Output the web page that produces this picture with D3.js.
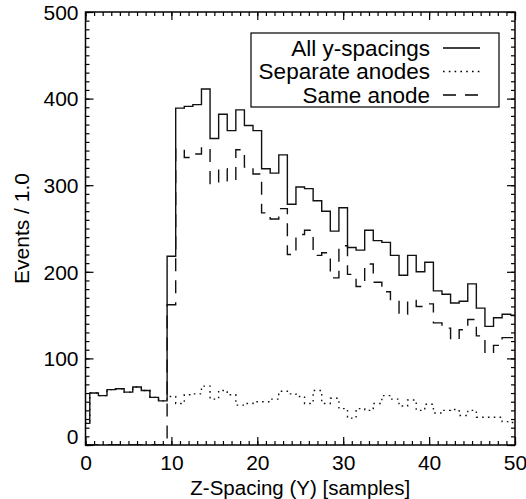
<!DOCTYPE html>
<html><head><meta charset="utf-8">
<script src="https://cdn.jsdelivr.net/npm/d3@7/dist/d3.min.js"></script>
<style>
body{margin:0;background:#fff}
svg text{font-family:"Liberation Sans",Arial,Helvetica,sans-serif;fill:#000}
</style>
</head><body>
<svg id="chart" width="526" height="499"></svg>
<script>
// Bin centres (Z-spacing in samples)
const zSpacing = [0,1,2,3,4,5,6,7,8,9,10,11,12,13,14,15,16,17,18,19,20,21,22,23,24,25,26,27,28,29,30,31,32,33,34,35,36,37,38,39,40,41,42,43,44,45,46,47,48,49,50];
const allSpacings = [25,60,57,64,65,61,67,63,55,51, 218,389,391,393,411,354,382,363,387,369, 363,319,314,335,278,298,296,282,270,247, 274,228,225,248,236,234,219,196,219,200, 211,178,174,164,166,186,158,137,147,151, 150];
const separateAnodes = [25,60,57,64,65,61,67,63,55,51, 56,48,58,59,68,53,63,58,46,48, 50,50,53,62,59,56,48,63,48,54, 42,31,42,40,48,57,53,45,52,40, 47,37,40,41,34,40,32,32,32,27, 26];
const sameAnode = [0,0,0,0,0,0,0,0,0,0, 162,342,332,336,343,302,319,305,341,321, 313,268,261,273,220,243,248,219,222,193, 230,197,183,209,188,177,167,151,167,160, 163,141,135,122,133,145,126,106,115,124, 124];
const xMajorTicks = [0,10,20,30,40,50];
const yMajorTicks = [0,100,200,300,400,500];
const seriesNames = ["All y-spacings","Separate anodes","Same anode"];
const xTitle = "Z-Spacing (Y) [samples]";
const yTitle = "Events / 1.0";

const L = 85.5, R = 515, T = 12, B = 445;
const FS = 21;
const svg = d3.select("#chart");
const x = d3.scaleLinear().domain([0,50]).range([L,R]);
const y = d3.scaleLinear().domain([0,500]).range([B,T]);

svg.append("defs").append("clipPath").attr("id","clip")
  .append("rect").attr("x",L).attr("y",T).attr("width",R-L).attr("height",B-T);

const styles = [
  {data: allSpacings, dash: null},
  {data: separateAnodes, dash: "1.6,4.2"},
  {data: sameAnode, dash: "13,9"}
];
const line = d3.line().x(d=>x(d[0])).y(d=>y(d[1])).curve(d3.curveStep);
const g = svg.append("g").attr("clip-path","url(#clip)");
[2,1,0].forEach(i=>{
  const s = styles[i];
  g.append("path")
    .attr("d", line(zSpacing.map((z,j)=>[z, s.data[j]])))
    .attr("fill","none").attr("stroke","#111").attr("stroke-width",1.4)
    .attr("stroke-dasharray", s.dash);
});

// Axes
const xMinor = zSpacing;
const yMinor = d3.range(0,501,10);
function styleAxis(sel){
  sel.select(".domain").remove();
  sel.selectAll(".tick line").attr("stroke","#000").attr("stroke-width",1.2);
}
svg.append("g").attr("transform",`translate(0,${B})`)
  .call(d3.axisBottom(x).tickValues(xMinor).tickSizeInner(-4).tickSizeOuter(0).tickFormat(""))
  .call(styleAxis);
const xb = svg.append("g").attr("transform",`translate(0,${B})`)
  .call(d3.axisBottom(x).tickValues(xMajorTicks).tickSizeInner(-8).tickSizeOuter(0).tickFormat(d3.format("d")))
  .call(styleAxis);
xb.selectAll(".tick text").attr("y",18).attr("dy","0.35em").attr("font-size",FS).style("font-family",'"Liberation Sans",Arial,sans-serif');
svg.append("g").attr("transform",`translate(0,${T})`)
  .call(d3.axisTop(x).tickValues(xMinor).tickSizeInner(-4).tickSizeOuter(0).tickFormat(""))
  .call(styleAxis);
svg.append("g").attr("transform",`translate(0,${T})`)
  .call(d3.axisTop(x).tickValues(xMajorTicks).tickSizeInner(-8).tickSizeOuter(0).tickFormat(""))
  .call(styleAxis);
svg.append("g").attr("transform",`translate(${L},0)`)
  .call(d3.axisLeft(y).tickValues(yMinor).tickSizeInner(-4).tickSizeOuter(0).tickFormat(""))
  .call(styleAxis);
const yl = svg.append("g").attr("transform",`translate(${L},0)`)
  .call(d3.axisLeft(y).tickValues(yMajorTicks).tickSizeInner(-8).tickSizeOuter(0).tickFormat(d3.format("d")))
  .call(styleAxis);
yl.selectAll(".tick text").attr("x",-7).attr("font-size",FS).style("font-family",'"Liberation Sans",Arial,sans-serif')
  .attr("dy", d => d===0 ? "-0.05em" : "0.35em");
svg.append("g").attr("transform",`translate(${R},0)`)
  .call(d3.axisRight(y).tickValues(yMinor).tickSizeInner(-4).tickSizeOuter(0).tickFormat(""))
  .call(styleAxis);
svg.append("g").attr("transform",`translate(${R},0)`)
  .call(d3.axisRight(y).tickValues(yMajorTicks).tickSizeInner(-8).tickSizeOuter(0).tickFormat(""))
  .call(styleAxis);

svg.append("rect").attr("x",L).attr("y",T).attr("width",R-L).attr("height",B-T)
  .attr("fill","none").attr("stroke","#000").attr("stroke-width",1.5);

svg.append("text").attr("x",(L+R)/2).attr("y",495)
  .attr("text-anchor","middle").attr("font-size",20.5).text(xTitle);
svg.append("text").attr("transform",`translate(22,${(T+B)/2}) rotate(-90)`).attr("dy","0.35em")
  .attr("text-anchor","middle").attr("font-size",FS).text(yTitle);

const leg = svg.append("g");
leg.append("rect").attr("x",251).attr("y",33).attr("width",248).attr("height",74)
  .attr("fill","#fff").attr("stroke","#000").attr("stroke-width",1.2);
const rowY = [48,71.5,95];
seriesNames.forEach((n,i)=>{
  leg.append("text").attr("x",430).attr("y",rowY[i]).attr("dy","0.35em")
    .attr("text-anchor","end").attr("font-size",22.5).text(n);
  leg.append("line").attr("x1",443).attr("x2",480).attr("y1",rowY[i]).attr("y2",rowY[i])
    .attr("stroke","#000").attr("stroke-width",1.3).attr("stroke-dasharray",styles[i].dash);
});
</script>
</body></html>
